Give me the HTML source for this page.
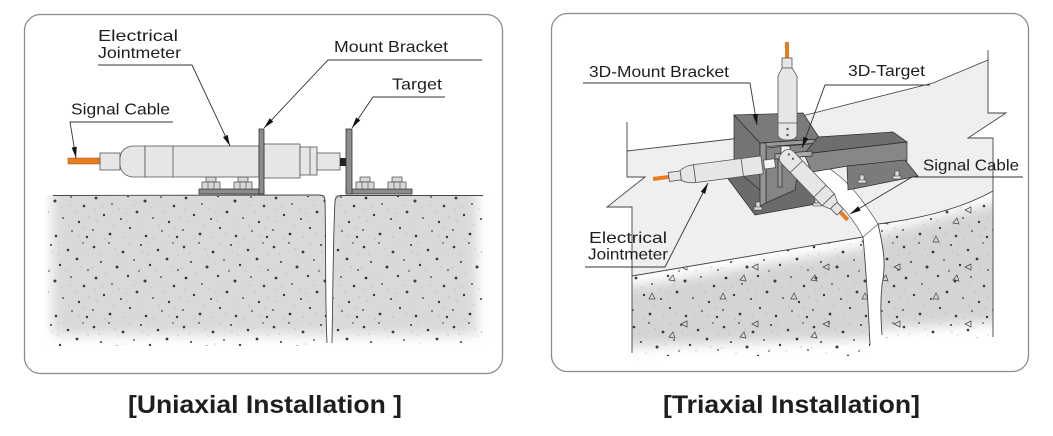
<!DOCTYPE html>
<html><head><meta charset="utf-8"><style>
html,body{margin:0;padding:0;background:#fff;}
svg{display:block;}
text{font-family:"Liberation Sans",Arial,sans-serif;fill:#1e1e1e;}
</style></head><body>
<svg width="1053" height="436" viewBox="0 0 1053 436" xmlns="http://www.w3.org/2000/svg">
<defs>
<filter id="bl" x="-20%" y="-30%" width="140%" height="160%"><feGaussianBlur stdDeviation="6"/></filter>
<pattern id="dots" width="90" height="80" patternUnits="userSpaceOnUse">
<g fill="#3a3a3a">
<circle cx="4" cy="7" r="1.3"/><circle cx="19" cy="3" r="0.9"/><circle cx="33" cy="12" r="1.4"/><circle cx="51" cy="5" r="1"/><circle cx="68" cy="10" r="1.3"/><circle cx="83" cy="3" r="0.8"/>
<circle cx="11" cy="22" r="1"/><circle cx="27" cy="27" r="1.5"/><circle cx="44" cy="20" r="0.9"/><circle cx="60" cy="25" r="1.2"/><circle cx="77" cy="19" r="1.4"/><circle cx="88" cy="30" r="0.9"/>
<circle cx="6" cy="38" r="1.4"/><circle cx="22" cy="44" r="0.9"/><circle cx="38" cy="36" r="1.2"/><circle cx="55" cy="41" r="1.5"/><circle cx="71" cy="37" r="0.9"/><circle cx="84" cy="46" r="1.3"/>
<circle cx="14" cy="55" r="1.2"/><circle cx="31" cy="59" r="1"/><circle cx="47" cy="52" r="1.4"/><circle cx="63" cy="58" r="0.9"/><circle cx="79" cy="62" r="1.2"/>
<circle cx="3" cy="70" r="0.9"/><circle cx="20" cy="74" r="1.4"/><circle cx="40" cy="68" r="1.1"/><circle cx="56" cy="76" r="1.3"/><circle cx="72" cy="71" r="0.9"/><circle cx="87" cy="77" r="1.2"/><circle cx="49" cy="31" r="0.8"/>
</g>
<g fill="#9a9a9a">
<circle cx="9" cy="14" r="0.55"/><circle cx="25" cy="9" r="0.55"/><circle cx="40" cy="4" r="0.55"/><circle cx="58" cy="15" r="0.55"/><circle cx="74" cy="8" r="0.55"/><circle cx="88" cy="15" r="0.55"/><circle cx="2" cy="28" r="0.55"/><circle cx="16" cy="33" r="0.55"/><circle cx="35" cy="24" r="0.55"/><circle cx="50" cy="29" r="0.55"/><circle cx="66" cy="31" r="0.55"/><circle cx="81" cy="27" r="0.55"/><circle cx="12" cy="47" r="0.55"/><circle cx="29" cy="49" r="0.55"/><circle cx="44" cy="45" r="0.55"/><circle cx="61" cy="48" r="0.55"/><circle cx="75" cy="52" r="0.55"/><circle cx="89" cy="57" r="0.55"/><circle cx="7" cy="61" r="0.55"/><circle cx="24" cy="65" r="0.55"/><circle cx="37" cy="61" r="0.55"/><circle cx="53" cy="64" r="0.55"/><circle cx="69" cy="66" r="0.55"/><circle cx="85" cy="68" r="0.55"/><circle cx="15" cy="79" r="0.55"/><circle cx="33" cy="77" r="0.55"/><circle cx="46" cy="73" r="0.55"/><circle cx="64" cy="78" r="0.55"/><circle cx="79" cy="76" r="0.55"/><circle cx="28" cy="16" r="0.55"/><circle cx="58" cy="3" r="0.55"/><circle cx="70" cy="45" r="0.55"/><circle cx="36" cy="53" r="0.55"/><circle cx="5" cy="50" r="0.55"/><circle cx="52" cy="12" r="0.55"/>
</g>
</pattern>
<pattern id="tri" width="71" height="57" patternUnits="userSpaceOnUse">
<g fill="none" stroke="#444" stroke-width="0.7">
<path d="M10,14 l3,-6 l3,6 z"/><path d="M48,36 l-6,3 l6,3 z"/><path d="M30,52 l4,-5 l2,6 z"/>
</g>
</pattern>
<clipPath id="cl1"><path d="M44,195 L325,195 C327,230 325,300 327,343 L327,362 L44,362 Z"/></clipPath>
<clipPath id="cl2"><path d="M335,195 L490,195 L490,362 L332,362 L332,343 C333,280 333,230 335,196 Z"/></clipPath>
<clipPath id="cr1"><path d="M632,276 L863,237 C866,270 868,300 870,345 L870,370 L632,370 Z"/></clipPath>
<clipPath id="cr2"><path d="M878,224 Q950,215 993,191 L993,370 L882,370 L882,335 C881,320 880,305 882,285 C886,265 884,250 878,224 Z"/></clipPath>
</defs>

<!-- panels -->
<rect x="24.5" y="14.5" width="478" height="359" rx="16" fill="#fff" stroke="#8c8c8c" stroke-width="1.3"/>
<rect x="551.5" y="13.5" width="477" height="358" rx="16" fill="#fff" stroke="#8c8c8c" stroke-width="1.3"/>

<!-- LEFT concrete -->
<g clip-path="url(#cl1)">
<rect x="52" y="180" width="285" height="155" fill="#d9d9d9" filter="url(#bl)"/>
<rect x="48" y="196" width="280" height="150" fill="url(#dots)"/>
</g>
<g clip-path="url(#cl2)">
<rect x="325" y="180" width="152" height="155" fill="#d9d9d9" filter="url(#bl)"/>
<rect x="330" y="196" width="152" height="148" fill="url(#dots)"/>
</g>
<path d="M53,195.5 L319,195 Q325,195 325,201 C326,240 325,300 327,343" fill="none" stroke="#444" stroke-width="0.9"/>
<path d="M483,195.5 L341,195.5 Q335,196 335,202 C333,240 333,290 332,343" fill="none" stroke="#444" stroke-width="0.9"/>

<!-- LEFT brackets bases & bolts -->
<g stroke="#333" stroke-width="0.8">
<path d="M199,189 L264,189 L264,194 L199,194 Z" fill="#8c8c8c"/>
<path d="M346,189 L412,189 L412,194 L346,194 Z" fill="#8c8c8c"/>
</g>
<g fill="#d8d8d8" stroke="#444" stroke-width="0.7">
<rect x="206" y="177" width="10" height="5"/><rect x="202" y="182" width="18" height="7"/>
<rect x="238" y="177" width="10" height="5"/><rect x="234" y="182" width="18" height="7"/>
<rect x="360" y="177" width="10" height="5"/><rect x="356" y="182" width="18" height="7"/>
<rect x="392" y="177" width="10" height="5"/><rect x="388" y="182" width="18" height="7"/>
</g>
<g stroke="#444" stroke-width="0.6">
<line x1="208" y1="182" x2="208" y2="189"/><line x1="214" y1="182" x2="214" y2="189"/>
<line x1="240" y1="182" x2="240" y2="189"/><line x1="246" y1="182" x2="246" y2="189"/>
<line x1="362" y1="182" x2="362" y2="189"/><line x1="368" y1="182" x2="368" y2="189"/>
<line x1="394" y1="182" x2="394" y2="189"/><line x1="400" y1="182" x2="400" y2="189"/>
</g>

<!-- LEFT jointmeter -->
<rect x="68" y="158" width="32" height="6" fill="#e87c1e" stroke="#9a5214" stroke-width="0.5"/>
<g fill="#e6e6e6" stroke="#555" stroke-width="0.8">
<rect x="100" y="153" width="20" height="17"/>
<path d="M145,146 L132,146 Q121,148 120,158 L120,165 Q121,175 132,177 L145,177 Z"/>
<rect x="145" y="146" width="114" height="31"/>
<rect x="264" y="144" width="36" height="34"/>
<rect x="300" y="147" width="17" height="28"/>
<rect x="317" y="153" width="23" height="17"/>
<line x1="173" y1="146" x2="173" y2="177"/>
<line x1="310" y1="147" x2="310" y2="175"/>
</g>
<rect x="340" y="158" width="6" height="8" fill="#222"/>
<g stroke="#333" stroke-width="0.8" fill="#8c8c8c">
<rect x="259" y="129" width="5" height="65"/>
<rect x="346" y="129" width="6" height="65"/>
</g>

<!-- LEFT leaders -->
<g stroke="#333" stroke-width="0.9" fill="none">
<polyline points="173,122 70,122 76,158"/>
<polyline points="98,65 192,65 230,146"/>
<polyline points="482,60 328,60 264,128"/>
<polyline points="445,97 373,97 352,128"/>
</g>
<g fill="#111">
<polygon points="76,158 76.7,146.8 71.7,147.6"/>
<polygon points="230,146 227.6,134.9 223,137.1"/>
<polygon points="264,128 273.3,121.7 269.7,118.3"/>
<polygon points="352,128 360.3,120.3 356.1,117.5"/>
</g>
<text x="98" y="41" font-size="16" textLength="80" lengthAdjust="spacingAndGlyphs">Electrical</text>
<text x="98" y="58" font-size="16" textLength="83" lengthAdjust="spacingAndGlyphs">Jointmeter</text>
<text x="334" y="52" font-size="16" textLength="114" lengthAdjust="spacingAndGlyphs">Mount Bracket</text>
<text x="392" y="89.5" font-size="16" textLength="50" lengthAdjust="spacingAndGlyphs">Target</text>
<text x="71" y="114.5" font-size="16" textLength="99" lengthAdjust="spacingAndGlyphs">Signal Cable</text>

<!-- RIGHT slab -->
<path d="M627,151 L732,139 L790,119 L933,83 L988,60 L988,113 L1006,113 L968,138 L993,138 L993,191 Q950,215 878,224 L863,237 L632,276 L632,207 L607,207 L645,177 L627,177 Z" fill="#efefef"/>
<g clip-path="url(#cr1)">
<polygon points="622,288 872,246 878,338 622,347" fill="#d4d4d4" filter="url(#bl)"/>
<rect x="632" y="236" width="240" height="120" fill="url(#dots)"/>
<rect x="632" y="236" width="240" height="112" fill="url(#tri)"/>
</g>
<g clip-path="url(#cr2)">
<polygon points="872,236 1005,200 1005,322 872,330" fill="#d4d4d4" filter="url(#bl)"/>
<rect x="878" y="190" width="115" height="148" fill="url(#dots)"/>
<rect x="878" y="190" width="115" height="138" fill="url(#tri)"/>
</g>
<g stroke="#444" stroke-width="0.9" fill="none">
<path d="M627,122 L627,177 L645,177 L607,207 L632,207 L632,353"/>
<path d="M627,151 L732,139 L790,119 L933,83 L988,60"/>
<path d="M988,50 L988,113 L1006,113 L968,138 L993,138 L993,337"/>
<path d="M632,276 L863,237"/>
<path d="M878,224 Q950,215 993,191"/>
<path d="M863,237 C866,270 868,300 870,345"/>
<path d="M878,224 C884,250 886,265 882,285 C880,305 881,320 882,335"/>
</g>

<!-- box -->
<g stroke="#2a2a2a" stroke-width="0.7">
<path d="M720,168 L790,158 L838,200 L755,215 Z" fill="#6b6b6b"/>
</g>
<path d="M812,160 C840,170 860,195 878,224 L863,237 C850,212 828,190 802,176 Z" fill="#fff" stroke="#666" stroke-width="0.8"/>
<g stroke="#2a2a2a" stroke-width="0.7">
<path d="M734,115 L760,143 L760,190 L734,168 Z" fill="#747474"/>
<path d="M766,148 L818,143 L818,152 L800,156 L795,190 L766,203 Z" fill="#858585"/>
<path d="M734,115 L803,113 L820,139 L760,143 Z" fill="#7a7a7a"/>
<path d="M760,143 L820,139 L820,143 L760,147 Z" fill="#9a9a9a"/>
<path d="M760,143 L766,143 L766,203 L760,206 Z" fill="#959595"/>
<path d="M818,137 L893,132 L907,142 L804,154 Z" fill="#6e6e6e"/>
<path d="M804,154 L907,142 L907,161 L848,166 L812,172 Z" fill="#878787"/>
<path d="M847,166 L905,160 L918,176 L848,190 Z" fill="#7b7b7b"/>
<rect x="781" y="146" width="9" height="8" fill="#f0f0f0"/>
<path d="M775,154 L812,151 L812,156 L775,159 Z" fill="#aaa"/>
<rect x="778" y="159" width="4" height="28" fill="#999"/>
</g>
<g fill="#ddd" stroke="#333" stroke-width="0.5">
<rect x="860" y="175" width="4" height="6"/><rect x="858" y="180" width="8" height="3"/>
<rect x="895" y="171" width="4" height="6"/><rect x="893" y="176" width="8" height="3"/>
<rect x="756" y="202" width="4" height="6"/><rect x="754" y="207" width="8" height="3"/>
<rect x="815" y="198" width="4" height="6"/><rect x="813" y="203" width="8" height="3"/>
</g>

<!-- horizontal jointmeter -->
<g transform="translate(653,179) rotate(-7.4)">
<rect x="0" y="-2" width="16" height="4" fill="#e87c1e"/>
<g fill="#e6e6e6" stroke="#555" stroke-width="0.8">
<rect x="16" y="-4.5" width="12" height="9"/>
<path d="M28,-5 Q34,-9 42,-9 L42,9 Q34,9 28,5 Z"/>
<rect x="42" y="-9" width="68" height="18"/>
<line x1="90" y1="-9" x2="90" y2="9"/>
<rect x="112" y="-4.5" width="11" height="9" fill="#f4f4f4"/>
</g>
</g>
<!-- vertical jointmeter -->
<rect x="785" y="42" width="4" height="17" fill="#e87c1e"/>
<g fill="#e6e6e6" stroke="#555" stroke-width="0.8">
<rect x="782" y="58" width="10" height="10"/>
<path d="M782,68 L792,68 L797,76 L797,134 Q797,140 787.5,140 Q778,140 778,134 L778,76 Z"/>
<line x1="778" y1="123" x2="797" y2="123"/>
</g>
<circle cx="787.5" cy="129" r="1.2" fill="#555"/><circle cx="787.5" cy="135" r="1.2" fill="#555"/>
<!-- diagonal jointmeter -->
<g transform="translate(788,158) rotate(46)">
<rect x="75" y="-2" width="11" height="4" fill="#e87c1e"/>
<g fill="#e6e6e6" stroke="#555" stroke-width="0.8">
<path d="M0,-8.5 L58,-8.5 L58,8.5 L0,8.5 Q-8,8.5 -8,0 Q-8,-8.5 0,-8.5 Z"/>
<line x1="12" y1="-8.5" x2="12" y2="8.5"/>
<line x1="46" y1="-8.5" x2="46" y2="8.5"/>
<path d="M58,-8.5 L66,-5 L66,5 L58,8.5 Z"/>
<rect x="66" y="-4.5" width="9" height="9"/>
</g>
<circle cx="-2" cy="-3" r="1.1" fill="#555"/><circle cx="4" cy="-3" r="1.1" fill="#555"/>
</g>

<!-- RIGHT leaders -->
<g stroke="#333" stroke-width="0.9" fill="none">
<polyline points="583,83 750,83 757,125"/>
<polyline points="930,85 825,85 802,148"/>
<polyline points="1023,177 912,177 850,214"/>
<polyline points="585,267 665,267 708,183"/>
</g>
<g fill="#111">
<polygon points="757,125 757.7,113.8 752.7,114.6"/>
<polygon points="802,148 808.2,138.6 803.5,136.8"/>
<polygon points="850,214 860.7,210.6 858.1,206.3"/>
<polygon points="708,183 705.2,193.9 700.8,191.7"/>
</g>
<text x="589" y="77" font-size="16" textLength="140" lengthAdjust="spacingAndGlyphs">3D-Mount Bracket</text>
<text x="848" y="76" font-size="16" textLength="77" lengthAdjust="spacingAndGlyphs">3D-Target</text>
<text x="923" y="170.5" font-size="16" textLength="96" lengthAdjust="spacingAndGlyphs">Signal Cable</text>
<text x="589" y="243" font-size="16" textLength="78" lengthAdjust="spacingAndGlyphs">Electrical</text>
<text x="588" y="259.5" font-size="16" textLength="80" lengthAdjust="spacingAndGlyphs">Jointmeter</text>

<!-- captions -->
<text x="128" y="413" font-size="25" font-weight="bold" textLength="274" lengthAdjust="spacingAndGlyphs">[Uniaxial Installation ]</text>
<text x="663" y="413" font-size="25" font-weight="bold" textLength="257" lengthAdjust="spacingAndGlyphs">[Triaxial Installation]</text>
</svg>
</body></html>
